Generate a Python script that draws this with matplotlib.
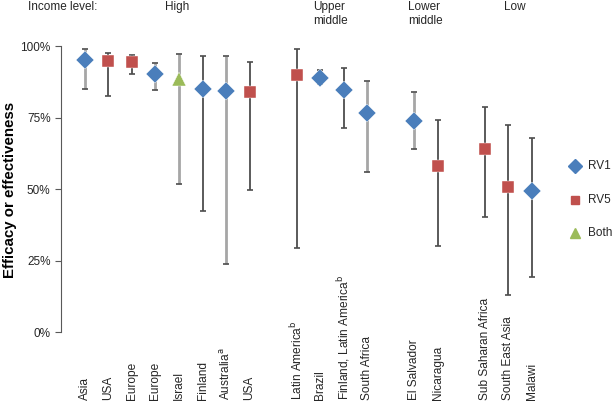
import matplotlib.pyplot as plt
from matplotlib.transforms import blended_transform_factory

plt.rcParams['font.family'] = ['Liberation Sans', 'DejaVu Sans']

# categories (slot positions leave an empty slot between income groups)
labels = ["Asia", "USA", "Europe", "Europe", "Israel", "Finland", r"Australia$^{\mathrm{a}}$", "USA",
          r"Latin America$^{\mathrm{b}}$", "Brazil", r"Finland, Latin America$^{\mathrm{b}}$", "South Africa",
          "El Salvador", "Nicaragua",
          "Sub Saharan Africa", "South East Asia", "Malawi"]
slots = [0, 1, 2, 3, 4, 5, 6, 7, 9, 10, 11, 12, 14, 15, 17, 18, 19]
vaccine = ["RV1", "RV5", "RV5", "RV1", "Both", "RV1", "RV1", "RV5",
           "RV5", "RV1", "RV1", "RV1", "RV1", "RV5", "RV5", "RV5", "RV1"]
estimate = [95.3, 94.8, 94.5, 90.2, 88.5, 85.0, 84.3, 84.0,
            89.9, 88.9, 84.7, 76.6, 73.9, 58.0, 63.9, 50.8, 49.4]
lower = [84.9, 82.6, 90.4, 84.5, 51.9, 42.3, 23.7, 49.8,
         29.5, 86.7, 71.4, 55.8, 64.0, 30.1, 40.1, 12.9, 19.2]
upper = [99.1, 97.7, 96.9, 94.0, 97.4, 96.7, 96.7, 94.5,
         99.1, 91.7, 92.4, 87.9, 83.8, 74.0, 78.8, 72.4, 67.9]
light_bar = [True, False, False, True, True, False, True, False,
             False, False, False, True, True, False, False, False, False]

income_groups = ["High", "Upper\nmiddle", "Lower\nmiddle", "Low"]
income_pos = [3.4, 9.7, 13.75, 17.8]

styles = {"RV1": dict(marker="D", color="#4a7ebb", ms=9.5),
          "RV5": dict(marker="s", color="#c0504d", ms=8.5),
          "Both": dict(marker="^", color="#9bbb59", ms=10)}

fig = plt.figure(figsize=(6.14, 4.01), dpi=100)
ax = fig.add_axes([0.0993, 0.172, 0.805, 0.713])

for x, lo, hi, light in zip(slots, lower, upper, light_bar):
    ax.vlines(x, lo / 100, hi / 100, color="#a6a6a6" if light else "#4d4d4d",
              lw=2.0 if light else 1.3, zorder=1)
    ax.plot([x, x], [lo / 100, hi / 100], ls="none", marker="_", ms=5,
            mew=1.2, color="#4d4d4d", zorder=1)

for name, st in styles.items():
    xs = [s for s, v in zip(slots, vaccine) if v == name]
    ys = [e / 100 for e, v in zip(estimate, vaccine) if v == name]
    ax.plot(xs, ys, ls="none", marker=st["marker"], color=st["color"],
            ms=st["ms"], mec="white", mew=0.3, zorder=3)

# legend markers
for i, (name, st) in enumerate(styles.items()):
    yf = 0.585 - i * 0.083
    fig.lines.append(plt.Line2D([575 / 614], [yf], transform=fig.transFigure, ls="none",
                                marker=st["marker"], color=st["color"], ms=st["ms"] * 0.72))
    fig.text(588 / 614, yf, name, fontsize=8.5, va="center", ha="left", color="#262626")

ax.set_xlim(-1.02, 20)
ax.set_ylim(0, 1)
ax.set_yticks([0, 0.25, 0.5, 0.75, 1.0])
ax.set_yticklabels(["0%", "25%", "50%", "75%", "100%"])
ax.set_xticks([])
ax.tick_params(axis="y", direction="out", length=4, color="#595959", labelsize=8.5,
               labelcolor="#262626")
for side in ["top", "right", "bottom"]:
    ax.spines[side].set_visible(False)
ax.spines["left"].set_color("#595959")

# category labels, bottom-anchored at the figure edge
trans = blended_transform_factory(ax.transData, fig.transFigure)
for s, lab in zip(slots, labels):
    ax.text(s, 1 / 401, lab, rotation=90, ha="center", va="bottom", fontsize=8.6,
            color="#262626", transform=trans)

fig.text(10 / 614, 1 - 190 / 401, "Efficacy or effectiveness", rotation=90, fontsize=10.8,
         fontweight="bold", ha="center", va="center")

fig.text(28 / 614, 1 - 1 / 401, "Income level:", fontsize=8.5, va="top", color="#262626")
for name, p in zip(income_groups, income_pos):
    ax.text(p, 1 - 1 / 401, name, fontsize=8.5, ha="left", va="top", color="#262626",
            transform=trans, linespacing=1.25)

fig.savefig("out.png", dpi=100)
